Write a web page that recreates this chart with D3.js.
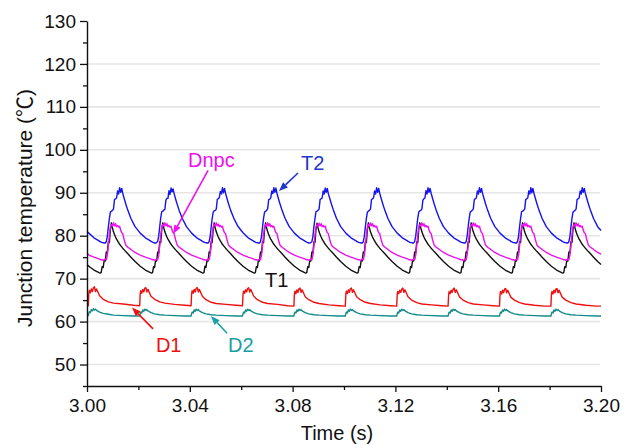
<!DOCTYPE html>
<html><head><meta charset="utf-8">
<script src="https://cdn.jsdelivr.net/npm/d3@7"></script>
<style>html,body{margin:0;padding:0;background:#fff;}svg{display:block;font-family:"Liberation Sans",Arial,sans-serif;}</style>
</head><body><svg id="c" width="629" height="445"></svg>
<script>
// ---------- data ----------
const xTicks = [3.00, 3.04, 3.08, 3.12, 3.16, 3.20];
const xMinorTicks = [3.02, 3.06, 3.10, 3.14, 3.18];
const yTicks = [50, 60, 70, 80, 90, 100, 110, 120, 130];
const yMinorTicks = [45, 55, 65, 75, 85, 95, 105, 115, 125];
const yGrid = [50, 60, 70, 80, 90, 100, 110, 120];

// time samples shared by T1, T2 and Dnpc (s)
const timeSwitch = [
3.0000,3.0007,3.0027,3.0047,
3.0051,3.0055,3.0059,3.0063,3.0067,3.0071,3.0075,3.0079,3.0083,3.0087,3.0091,3.0095,3.0099,3.0103,3.0107,3.0111,3.0115,3.0119,3.0123,3.0127,3.0131,3.0135,3.0139,3.0145,3.0151,3.0159,3.0171,3.0187,3.0207,3.0227,3.0247,
3.0251,3.0255,3.0259,3.0263,3.0267,3.0271,3.0275,3.0279,3.0283,3.0287,3.0291,3.0295,3.0299,3.0303,3.0307,3.0311,3.0315,3.0319,3.0323,3.0327,3.0331,3.0335,3.0339,3.0345,3.0351,3.0359,3.0371,3.0387,3.0407,3.0427,3.0447,
3.0451,3.0455,3.0459,3.0463,3.0467,3.0471,3.0475,3.0479,3.0483,3.0487,3.0491,3.0495,3.0499,3.0503,3.0507,3.0511,3.0515,3.0519,3.0523,3.0527,3.0531,3.0535,3.0539,3.0545,3.0551,3.0559,3.0571,3.0587,3.0607,3.0627,3.0647,
3.0651,3.0655,3.0659,3.0663,3.0667,3.0671,3.0675,3.0679,3.0683,3.0687,3.0691,3.0695,3.0699,3.0703,3.0707,3.0711,3.0715,3.0719,3.0723,3.0727,3.0731,3.0735,3.0739,3.0745,3.0751,3.0759,3.0771,3.0787,3.0807,3.0827,3.0847,
3.0851,3.0855,3.0859,3.0863,3.0867,3.0871,3.0875,3.0879,3.0883,3.0887,3.0891,3.0895,3.0899,3.0903,3.0907,3.0911,3.0915,3.0919,3.0923,3.0927,3.0931,3.0935,3.0939,3.0945,3.0951,3.0959,3.0971,3.0987,3.1007,3.1027,3.1047,
3.1051,3.1055,3.1059,3.1063,3.1067,3.1071,3.1075,3.1079,3.1083,3.1087,3.1091,3.1095,3.1099,3.1103,3.1107,3.1111,3.1115,3.1119,3.1123,3.1127,3.1131,3.1135,3.1139,3.1145,3.1151,3.1159,3.1171,3.1187,3.1207,3.1227,3.1247,
3.1251,3.1255,3.1259,3.1263,3.1267,3.1271,3.1275,3.1279,3.1283,3.1287,3.1291,3.1295,3.1299,3.1303,3.1307,3.1311,3.1315,3.1319,3.1323,3.1327,3.1331,3.1335,3.1339,3.1345,3.1351,3.1359,3.1371,3.1387,3.1407,3.1427,3.1447,
3.1451,3.1455,3.1459,3.1463,3.1467,3.1471,3.1475,3.1479,3.1483,3.1487,3.1491,3.1495,3.1499,3.1503,3.1507,3.1511,3.1515,3.1519,3.1523,3.1527,3.1531,3.1535,3.1539,3.1545,3.1551,3.1559,3.1571,3.1587,3.1607,3.1627,3.1647,
3.1651,3.1655,3.1659,3.1663,3.1667,3.1671,3.1675,3.1679,3.1683,3.1687,3.1691,3.1695,3.1699,3.1703,3.1707,3.1711,3.1715,3.1719,3.1723,3.1727,3.1731,3.1735,3.1739,3.1745,3.1751,3.1759,3.1771,3.1787,3.1807,3.1827,3.1847,
3.1851,3.1855,3.1859,3.1863,3.1867,3.1871,3.1875,3.1879,3.1883,3.1887,3.1891,3.1895,3.1899,3.1903,3.1907,3.1911,3.1915,3.1919,3.1923,3.1927,3.1931,3.1935,3.1939,3.1945,3.1951,3.1959,3.1971,3.1987,
3.2000];

const T2 = [
81.0,80.6,79.5,78.8,
78.6,78.5,78.4,78.4,78.3,78.3,78.6,79.8,82.0,84.0,85.5,85.7,85.9,86.2,88.4,88.6,88.8,90.4,89.7,91.2,90.1,91.0,89.9,88.6,87.4,85.9,84.0,82.1,80.6,79.5,78.8,
78.6,78.5,78.4,78.3,78.3,78.4,78.7,79.9,82.1,84.2,85.6,85.7,86.0,86.1,88.3,88.7,88.7,90.5,89.6,91.1,90.2,90.9,89.8,88.5,87.3,85.8,84.0,82.1,80.6,79.5,78.8,
78.6,78.5,78.4,78.4,78.3,78.3,78.6,79.7,81.9,84.0,85.5,85.8,85.9,86.2,88.5,88.6,88.9,90.3,89.7,91.2,90.0,91.0,89.9,88.6,87.4,85.9,84.1,82.2,80.7,79.5,78.8,
78.6,78.5,78.4,78.4,78.3,78.3,78.6,79.8,82.0,84.1,85.5,85.7,85.9,86.3,88.4,88.5,88.8,90.4,89.8,91.2,90.1,91.1,89.9,88.6,87.4,85.9,84.0,82.1,80.6,79.5,78.8,
78.6,78.5,78.4,78.3,78.3,78.4,78.6,79.8,82.1,84.0,85.6,85.7,85.9,86.2,88.4,88.6,88.8,90.4,89.7,91.1,90.1,91.0,89.8,88.6,87.4,85.9,84.0,82.1,80.6,79.5,78.8,
78.6,78.5,78.4,78.4,78.3,78.3,78.6,79.8,82.0,84.0,85.5,85.7,85.9,86.2,88.4,88.6,88.8,90.4,89.7,91.2,90.1,91.0,89.9,88.6,87.4,85.9,84.0,82.1,80.6,79.5,78.8,
78.6,78.5,78.4,78.4,78.3,78.3,78.7,79.9,82.0,84.1,85.5,85.8,85.9,86.2,88.3,88.6,88.8,90.5,89.7,91.2,90.1,91.0,89.9,88.6,87.4,85.9,84.0,82.1,80.6,79.5,78.8,
78.6,78.5,78.4,78.4,78.3,78.3,78.6,79.8,82.0,84.0,85.5,85.7,85.9,86.2,88.4,88.6,88.8,90.4,89.7,91.2,90.1,91.0,89.9,88.6,87.4,85.9,84.0,82.1,80.6,79.5,78.8,
78.6,78.5,78.4,78.4,78.3,78.3,78.6,79.8,82.0,84.0,85.6,85.7,85.9,86.2,88.4,88.6,88.8,90.4,89.7,91.2,90.0,91.0,89.9,88.6,87.4,85.9,84.0,82.1,80.6,79.5,78.8,
78.6,78.5,78.4,78.4,78.3,78.3,78.6,79.8,82.0,84.0,85.5,85.7,85.9,86.2,88.4,88.6,88.8,90.4,89.7,91.2,90.1,91.0,89.9,88.6,87.4,85.9,84.0,82.1,
81.2];

const Dnpc = [
76.0,75.5,75.0,74.6,
74.5,74.4,74.4,74.3,74.3,74.6,74.4,75.4,77.6,80.2,82.0,82.6,82.2,83.0,82.3,82.8,82.1,82.4,82.0,82.2,81.3,80.7,80.5,79.0,77.8,77.3,76.8,76.1,75.5,75.0,74.6,
74.5,74.4,74.4,74.3,74.3,74.6,74.4,75.4,77.6,80.2,82.0,82.6,82.2,83.0,82.3,82.8,82.1,82.4,82.0,82.2,81.3,80.7,80.5,79.0,77.8,77.3,76.8,76.1,75.5,75.0,74.6,
74.5,74.4,74.4,74.3,74.3,74.6,74.4,75.5,77.7,80.2,82.0,82.7,82.2,83.0,82.3,82.7,82.1,82.4,82.0,82.2,81.3,80.7,80.5,79.0,77.8,77.3,76.8,76.1,75.5,75.0,74.6,
74.5,74.4,74.4,74.3,74.3,74.6,74.4,75.4,77.6,80.2,82.0,82.6,82.2,83.0,82.3,82.8,82.1,82.4,82.0,82.2,81.3,80.7,80.5,79.0,77.8,77.3,76.8,76.1,75.5,75.0,74.6,
74.5,74.4,74.4,74.3,74.3,74.6,74.4,75.4,77.6,80.1,82.0,82.6,82.2,82.9,82.3,82.8,82.1,82.4,82.0,82.2,81.3,80.7,80.5,79.0,77.8,77.3,76.8,76.1,75.5,75.0,74.6,
74.5,74.4,74.4,74.3,74.3,74.6,74.4,75.4,77.6,80.2,82.0,82.6,82.2,83.0,82.3,82.8,82.1,82.4,82.0,82.2,81.3,80.7,80.5,79.0,77.8,77.3,76.8,76.1,75.5,75.0,74.6,
74.5,74.4,74.4,74.3,74.3,74.6,74.4,75.4,77.6,80.2,82.1,82.6,82.2,83.0,82.3,82.8,82.1,82.4,82.0,82.2,81.3,80.7,80.5,79.0,77.8,77.3,76.8,76.1,75.5,75.0,74.6,
74.5,74.4,74.4,74.3,74.3,74.6,74.4,75.4,77.6,80.2,82.0,82.6,82.2,83.0,82.3,82.8,82.1,82.4,82.0,82.2,81.3,80.7,80.5,79.0,77.8,77.3,76.8,76.1,75.5,75.0,74.6,
74.5,74.4,74.4,74.3,74.3,74.6,74.4,75.4,77.6,80.2,82.0,82.6,82.2,83.0,82.3,82.8,82.1,82.4,82.0,82.2,81.3,80.7,80.5,79.0,77.8,77.3,76.8,76.1,75.5,75.0,74.6,
74.5,74.4,74.4,74.3,74.3,74.6,74.4,75.4,77.6,80.2,82.0,82.6,82.2,83.0,82.3,82.8,82.1,82.4,82.0,82.2,81.3,80.7,80.5,79.0,77.8,77.3,76.8,76.1,
75.7];

const T1 = [
73.2,72.9,72.0,71.4,
71.3,71.4,72.8,72.6,74.3,74.1,76.2,76.0,78.6,78.4,81.5,83.0,81.8,80.9,80.3,79.7,79.2,78.8,78.4,78.0,77.7,77.4,77.1,76.7,76.3,75.8,75.0,74.0,72.9,72.0,71.4,
71.3,71.4,72.8,72.6,74.3,74.1,76.2,76.0,78.6,78.4,81.5,83.0,81.8,80.9,80.3,79.7,79.2,78.8,78.4,78.0,77.7,77.4,77.1,76.7,76.3,75.8,75.0,74.0,72.9,72.0,71.4,
71.3,71.4,72.9,72.6,74.3,74.1,76.2,76.0,78.6,78.4,81.4,83.0,81.8,80.9,80.3,79.7,79.2,78.8,78.4,78.0,77.7,77.4,77.1,76.7,76.3,75.8,75.0,74.0,72.9,72.0,71.4,
71.3,71.4,72.8,72.6,74.3,74.1,76.2,76.0,78.6,78.4,81.5,83.0,81.8,80.9,80.3,79.7,79.2,78.8,78.4,78.0,77.7,77.4,77.1,76.7,76.3,75.8,75.0,74.0,72.9,72.0,71.4,
71.3,71.4,72.8,72.6,74.3,74.1,76.2,76.0,78.6,78.4,81.5,82.9,81.8,80.9,80.3,79.7,79.2,78.8,78.4,78.0,77.7,77.4,77.1,76.7,76.3,75.8,75.0,74.0,72.9,72.0,71.4,
71.3,71.4,72.8,72.6,74.3,74.1,76.2,76.0,78.6,78.4,81.5,83.0,81.8,80.9,80.3,79.7,79.2,78.8,78.4,78.0,77.7,77.4,77.1,76.7,76.3,75.8,75.0,74.0,72.9,72.0,71.4,
71.3,71.4,72.8,72.6,74.3,74.1,76.2,76.0,78.6,78.4,81.5,83.0,81.8,80.9,80.3,79.7,79.2,78.8,78.4,78.0,77.7,77.4,77.1,76.7,76.3,75.8,75.0,74.0,72.9,72.0,71.4,
71.3,71.4,72.8,72.6,74.3,74.1,76.2,76.0,78.6,78.4,81.5,83.0,81.8,80.9,80.3,79.7,79.2,78.8,78.4,78.0,77.7,77.4,77.1,76.7,76.3,75.8,75.0,74.0,72.9,72.0,71.4,
71.3,71.4,72.8,72.6,74.3,74.1,76.2,76.0,78.6,78.4,81.5,83.0,81.8,80.9,80.3,79.7,79.2,78.8,78.4,78.0,77.7,77.4,77.1,76.7,76.3,75.8,75.0,74.0,72.9,72.0,71.4,
71.3,71.4,72.8,72.6,74.3,74.1,76.2,76.0,78.6,78.4,81.5,83.0,81.8,80.9,80.3,79.7,79.2,78.8,78.4,78.0,77.7,77.4,77.1,76.7,76.3,75.8,75.0,74.0,
73.3];

// time samples shared by D1 and D2 (s)
const timeDiode = [
3.0000,
3.0005,3.0007,3.0009,3.0013,3.0017,3.0021,3.0025,3.0029,3.0033,3.0037,3.0049,3.0063,3.0083,3.0103,3.0141,3.0181,
3.0205,3.0207,3.0209,3.0213,3.0217,3.0221,3.0225,3.0229,3.0233,3.0237,3.0249,3.0263,3.0283,3.0303,3.0341,3.0381,
3.0405,3.0407,3.0409,3.0413,3.0417,3.0421,3.0425,3.0429,3.0433,3.0437,3.0449,3.0463,3.0483,3.0503,3.0541,3.0581,
3.0605,3.0607,3.0609,3.0613,3.0617,3.0621,3.0625,3.0629,3.0633,3.0637,3.0649,3.0663,3.0683,3.0703,3.0741,3.0781,
3.0805,3.0807,3.0809,3.0813,3.0817,3.0821,3.0825,3.0829,3.0833,3.0837,3.0849,3.0863,3.0883,3.0903,3.0941,3.0981,
3.1005,3.1007,3.1009,3.1013,3.1017,3.1021,3.1025,3.1029,3.1033,3.1037,3.1049,3.1063,3.1083,3.1103,3.1141,3.1181,
3.1205,3.1207,3.1209,3.1213,3.1217,3.1221,3.1225,3.1229,3.1233,3.1237,3.1249,3.1263,3.1283,3.1303,3.1341,3.1381,
3.1405,3.1407,3.1409,3.1413,3.1417,3.1421,3.1425,3.1429,3.1433,3.1437,3.1449,3.1463,3.1483,3.1503,3.1541,3.1581,
3.1605,3.1607,3.1609,3.1613,3.1617,3.1621,3.1625,3.1629,3.1633,3.1637,3.1649,3.1663,3.1683,3.1703,3.1741,3.1781,
3.1805,3.1807,3.1809,3.1813,3.1817,3.1821,3.1825,3.1829,3.1833,3.1837,3.1849,3.1863,3.1883,3.1903,3.1941,3.1981,
3.2000];

const D1 = [
63.8,
63.7,66.5,67.3,66.7,67.6,67.0,67.9,68.1,67.0,67.6,66.0,65.2,64.6,64.3,64.1,63.8,
63.7,66.4,67.2,66.6,67.5,66.9,67.8,67.9,66.9,67.5,65.9,65.2,64.6,64.3,64.0,63.8,
63.7,66.4,67.2,66.6,67.5,66.9,67.8,67.9,66.9,67.5,65.9,65.1,64.5,64.2,64.0,63.8,
63.7,66.3,67.1,66.6,67.4,66.9,67.7,67.9,66.9,67.5,65.9,65.1,64.5,64.2,64.0,63.7,
63.6,66.3,67.1,66.5,67.4,66.8,67.7,67.8,66.8,67.4,65.8,65.1,64.5,64.2,63.9,63.7,
63.6,66.3,67.1,66.5,67.4,66.8,67.7,67.8,66.8,67.4,65.8,65.1,64.5,64.2,63.9,63.7,
63.6,66.2,67.0,66.5,67.3,66.8,67.6,67.8,66.8,67.4,65.8,65.0,64.4,64.1,63.9,63.7,
63.6,66.2,67.0,66.5,67.3,66.8,67.6,67.8,66.8,67.4,65.8,65.0,64.4,64.1,63.9,63.7,
63.6,66.2,67.0,66.4,67.3,66.7,67.6,67.7,66.7,67.3,65.7,65.0,64.4,64.1,63.8,63.6,
63.6,66.2,67.0,66.4,67.3,66.7,67.6,67.7,66.7,67.3,65.7,65.0,64.4,64.1,63.8,63.6,
63.6];

const D2 = [
61.4,
61.4,61.9,62.3,62.1,62.8,62.5,63.0,62.7,62.9,62.6,62.2,61.9,61.7,61.5,61.4,61.3,
61.3,61.8,62.2,62.0,62.7,62.4,62.9,62.6,62.8,62.5,62.1,61.8,61.6,61.5,61.4,61.3,
61.3,61.8,62.2,62.0,62.7,62.4,62.9,62.6,62.8,62.5,62.1,61.8,61.6,61.5,61.4,61.3,
61.3,61.8,62.2,62.0,62.7,62.4,62.9,62.6,62.8,62.5,62.1,61.8,61.6,61.5,61.4,61.3,
61.3,61.8,62.2,62.0,62.7,62.4,62.9,62.6,62.8,62.5,62.1,61.8,61.6,61.5,61.4,61.3,
61.3,61.8,62.2,62.0,62.7,62.4,62.9,62.6,62.8,62.5,62.1,61.8,61.6,61.5,61.4,61.3,
61.3,61.8,62.2,62.0,62.7,62.4,62.9,62.6,62.8,62.5,62.1,61.8,61.6,61.5,61.4,61.3,
61.3,61.8,62.2,62.0,62.7,62.4,62.9,62.6,62.8,62.5,62.1,61.8,61.6,61.5,61.4,61.3,
61.3,61.8,62.2,62.0,62.7,62.4,62.9,62.6,62.8,62.5,62.1,61.8,61.6,61.5,61.4,61.3,
61.3,61.8,62.2,62.0,62.7,62.4,62.9,62.6,62.8,62.5,62.1,61.8,61.6,61.5,61.4,61.3,
61.3];

const seriesNames = ["T1", "T2", "Dnpc", "D1", "D2"];
const seriesColors = ["#111111", "#1414ee", "#ee10ee", "#ee1010", "#128a8a"];

// ---------- drawing ----------
const svg = d3.select("#c");
const x = d3.scaleLinear().domain([3.0, 3.2]).range([87, 601]);
const y = d3.scaleLinear().domain([45, 130]).range([386, 21]);

// grid
svg.append("g").selectAll("line").data(yGrid).join("line")
  .attr("x1", x(3.0)).attr("x2", x(3.2) - 1)
  .attr("y1", d => y(d)).attr("y2", d => y(d))
  .attr("stroke", "#e6e6e6").attr("stroke-width", 1.6);

function pts(times, vals) {
  const n = Math.min(times.length, vals.length);
  const out = [];
  for (let i = 0; i < n; i++) out.push([times[i], vals[i]]);
  return out;
}
const line = d3.line().x(d => x(d[0])).y(d => y(d[1]));
const seriesData = {
  T1: pts(timeSwitch, T1), T2: pts(timeSwitch, T2), Dnpc: pts(timeSwitch, Dnpc),
  D1: pts(timeDiode, D1), D2: pts(timeDiode, D2)
};
const drawOrder = ["D2", "D1", "T1", "Dnpc", "T2"];
drawOrder.forEach(name => {
  svg.append("path").datum(seriesData[name])
    .attr("d", line).attr("fill", "none")
    .attr("stroke", seriesColors[seriesNames.indexOf(name)])
    .attr("stroke-width", 1.4).attr("stroke-linejoin", "round");
});

// axes
const fontSize = 19;
const gy = svg.append("g").attr("transform", `translate(${x(3.0)},0)`);
gy.call(d3.axisLeft(y).tickValues(yTicks).tickSize(7).tickSizeOuter(0).tickPadding(4).tickFormat(d3.format("d")));
const gyMinor = svg.append("g").attr("transform", `translate(${x(3.0)},0)`);
gyMinor.call(d3.axisLeft(y).tickValues(yMinorTicks).tickSize(4).tickSizeOuter(0).tickFormat(""));
gyMinor.select(".domain").remove();

const gx = svg.append("g").attr("transform", `translate(0,${y(45)})`);
gx.call(d3.axisBottom(x).tickValues(xTicks).tickSize(6).tickSizeOuter(0).tickPadding(7).tickFormat(d3.format(".2f")));
const gxMinor = svg.append("g").attr("transform", `translate(0,${y(45)})`);
gxMinor.call(d3.axisBottom(x).tickValues(xMinorTicks).tickSize(4).tickSizeOuter(0).tickFormat(""));
gxMinor.select(".domain").remove();

svg.selectAll(".domain").attr("stroke", "#111").attr("stroke-width", 1.4);
svg.selectAll(".tick line").attr("stroke", "#111").attr("stroke-width", 1.3);
svg.selectAll(".tick text").attr("font-size", fontSize).attr("fill", "#111")
  .attr("font-family", '"Liberation Sans", Arial, sans-serif');

// axis titles
svg.append("text").attr("x", 337).attr("y", 440).attr("text-anchor", "middle")
  .attr("font-size", 20).attr("fill", "#111").text("Time (s)");
const yTitle = svg.append("text").attr("transform", "translate(32,208) rotate(-90)")
  .attr("text-anchor", "middle").attr("font-size", 21).attr("fill", "#111");
yTitle.append("tspan").text("Junction temperature (");
yTitle.append("tspan").attr("font-family", '"Noto Sans CJK SC", sans-serif').text("℃");
yTitle.append("tspan").text(")");

// annotations (positions in data units)
const annotations = [
  {label: "Dnpc", color: "#ee10ee", lx: 3.0393, ly: 96.0, from: [3.0471, 95.2], to: [3.0335, 80.4]},
  {label: "T2", color: "#2038c8", lx: 3.0833, ly: 95.3, from: [3.0821, 94.6], to: [3.0747, 90.4]},
  {label: "T1", color: "#111111", lx: 3.0693, ly: 68.1, from: null, to: null},
  {label: "D1", color: "#ee1010", lx: 3.0268, ly: 52.9, from: [3.0257, 58.3], to: [3.0175, 63.3]},
  {label: "D2", color: "#18a0a4", lx: 3.0549, ly: 52.9, from: [3.0545, 57.3], to: [3.0482, 61.3]}
];
annotations.forEach(a => {
  svg.append("text").attr("x", x(a.lx)).attr("y", y(a.ly))
    .attr("font-size", 20).attr("fill", a.color).text(a.label);
  if (a.from) {
    const x1 = x(a.from[0]), y1 = y(a.from[1]), x2 = x(a.to[0]), y2 = y(a.to[1]);
    const ang = Math.atan2(y2 - y1, x2 - x1);
    const L = 9, Wd = 3.5;
    const bx = x2 - L * Math.cos(ang), by = y2 - L * Math.sin(ang);
    svg.append("line").attr("x1", x1).attr("y1", y1).attr("x2", bx).attr("y2", by)
      .attr("stroke", a.color).attr("stroke-width", 1.6);
    const p1 = [bx + Wd * Math.sin(ang), by - Wd * Math.cos(ang)];
    const p2 = [bx - Wd * Math.sin(ang), by + Wd * Math.cos(ang)];
    svg.append("path").attr("d", `M${x2},${y2}L${p1[0]},${p1[1]}L${p2[0]},${p2[1]}Z`)
      .attr("fill", a.color);
  }
});
</script>
</body></html>
